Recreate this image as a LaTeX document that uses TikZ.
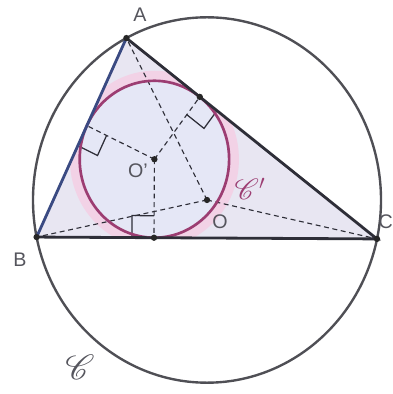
\documentclass[tikz,border=0pt]{standalone}
\usepackage{fontspec}
\setmainfont{Liberation Sans}
\usepackage{mathrsfs}
\usetikzlibrary{calc,angles}

\definecolor{edgegray}{HTML}{2E2E38}
\definecolor{circgray}{HTML}{4F4F55}
\definecolor{labelgray}{HTML}{55555D}
\definecolor{abblue}{HTML}{3A4A82}
\definecolor{incolor}{HTML}{9C3D72}
\definecolor{trifill}{HTML}{E8E6F2}
\definecolor{incfill}{HTML}{E5E7F6}
\definecolor{halopink}{HTML}{F2D2E6}

\begin{document}
\begin{tikzpicture}[
    yscale=1.05,
    side/.style={draw=edgegray, line width=2pt, line cap=round},
    bigcircle/.style={draw=circgray, line width=1.7pt},
    incircle/.style={draw=incolor, line width=1.9pt},
    radius line/.style={draw=edgegray, line width=0.8pt, dash pattern=on 3.5pt off 2.6pt},
    square/.style={draw=edgegray, line width=0.9pt, angle radius=0.55cm},
    pt/.style={circle, fill=black!85, inner sep=0pt, minimum size=4.5pt},
    lbl/.style={text=labelgray, font=\fontsize{14}{16}\selectfont}
]
\useasboundingbox (-5.175,-4.619) rectangle (4.65,4.762);

\coordinate (O) at (0,0);
\coordinate (A) at (117.6:4.35);
\coordinate (B) at (191.7:4.35);
\coordinate (C) at (347.7:4.35);
\coordinate (I) at (-1.315,0.970);
\coordinate (Ta) at ($(B)!(I)!(C)$);
\coordinate (Tb) at ($(C)!(I)!(A)$);
\coordinate (Tc) at ($(A)!(I)!(B)$);

% triangle and incircle fills
\fill[trifill] (A) -- (B) -- (C) -- cycle;
\begin{scope}
  \clip (A) -- (B) -- (C) -- cycle;
  \draw[halopink, line width=7pt] (I) circle (1.99);
\end{scope}
\fill[incfill] (I) circle (1.868);

% circumcircle
\draw[bigcircle] (O) circle (4.35);

% radii
\draw[radius line] (O) -- (A) (O) -- (B) (O) -- (C);
\draw[radius line] (I) -- (Ta) (I) -- (Tb) (I) -- (Tc);
\pic[square] {right angle = I--Ta--B};
\pic[square] {right angle = I--Tb--C};
\pic[square] {right angle = I--Tc--B};

% incircle and sides
\draw[incircle] (I) circle (1.868);
\draw[side] (B) -- (C) -- (A);
\draw[side, draw=abblue] (A) -- (B);

\foreach \p in {A,B,C,O,I,Ta,Tb}
  \node[pt] (dot\p) at (\p) {};

% labels
\node[lbl] (labA) at (-1.675,4.405) {A};
\node[lbl] (labB) at (-4.675,-1.429) {B};
\node[lbl] (labC) at (4.47,-0.524) {C};
\node[lbl] (labO) at (0.325,-0.524) {O};
\node[lbl] (labI) at (-1.725,0.69) {O'};
\node[text=incolor, font=\fontsize{21}{23}\selectfont] (labCi) at (1.075,0.262) {$\mathscr{C}'$};
\node[text=labelgray, font=\fontsize{25}{27}\selectfont] (labCc) at (-3.175,-3.976) {$\mathscr{C}$};
\end{tikzpicture}
\end{document}
